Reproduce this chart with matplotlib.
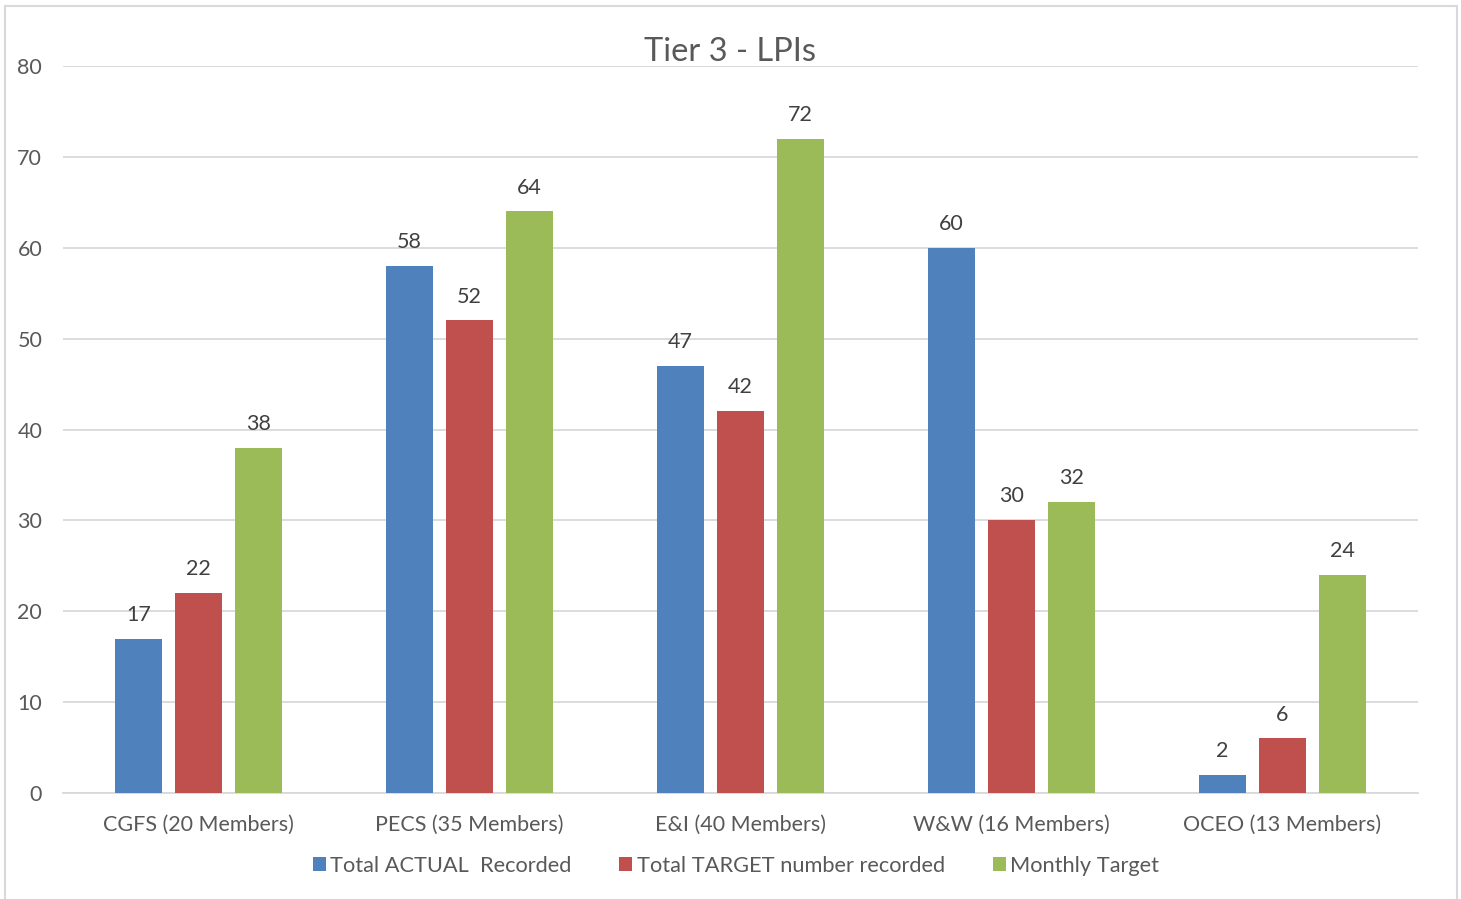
import matplotlib
matplotlib.use("Agg")
import matplotlib.pyplot as plt
from matplotlib.patches import Rectangle
import numpy as np

plt.rcParams['font.family'] = ['Lato', 'DejaVu Sans']

categories = ["CGFS (20 Members)", "PECS (35 Members)", "E&I (40 Members)",
              "W&W (16 Members)", "OCEO (13 Members)"]
actual_recorded = [17, 58, 47, 60, 2]
target_recorded = [22, 52, 42, 30, 6]
monthly_target = [38, 64, 72, 32, 24]

series_names = ["Total ACTUAL  Recorded", "Total TARGET number recorded", "Monthly Target"]
series_colors = ["#4F81BD", "#C0504D", "#9BBB59"]
yticks = [0, 10, 20, 30, 40, 50, 60, 70, 80]

text_color = "#595959"
grid_color = "#D9D9D9"

W, H = 1461, 899
fig = plt.figure(figsize=(W / 100, H / 100), dpi=100)
fig.patch.set_facecolor("white")

# outer chart border
fig.patches.append(Rectangle((5 / W, -0.01), (1457 - 5) / W, 1 - 6 / H + 0.01,
                             transform=fig.transFigure, fill=False,
                             edgecolor=grid_color, linewidth=1.5))

ax = fig.add_axes([63 / W, 106 / H, (1418 - 63) / W, (793 - 66) / H])

x = np.arange(len(categories))
bar_w = 0.173
step = 0.221
all_series = [actual_recorded, target_recorded, monthly_target]
for i, (vals, name, col) in enumerate(zip(all_series, series_names, series_colors)):
    pos = x + (i - 1) * step
    bars = ax.bar(pos, vals, width=bar_w, color=col, label=name, zorder=3)
    for b, v in zip(bars, vals):
        ax.annotate(f"{v}", (b.get_x() + b.get_width() / 2, v),
                    xytext=(0, 10), textcoords="offset points",
                    ha="center", va="bottom", fontsize=15.5, color="#404040")

ax.set_xlim(-0.5, len(categories) - 0.5)
ax.set_ylim(0, 80)
ax.set_yticks(yticks)
ax.set_yticklabels([str(t) for t in yticks])
ax.set_xticks(x)
ax.set_xticklabels(categories)

ax.grid(axis="y", color=grid_color, linewidth=1.3, zorder=0)
ax.set_axisbelow(True)
for side in ["top", "right", "left"]:
    ax.spines[side].set_visible(False)
ax.spines["bottom"].set_color(grid_color)
ax.spines["bottom"].set_linewidth(1.3)
ax.tick_params(axis="both", length=0, labelsize=15.5, labelcolor=text_color)
ax.tick_params(axis="y", pad=15)
ax.tick_params(axis="x", pad=16)

fig.text(0.5, 1 - 52 / H, "Tier 3 - LPIs", ha="center", va="center",
         fontsize=23.5, color=text_color)

handles, labels = ax.get_legend_handles_labels()
leg = fig.legend(handles, labels, loc="center", bbox_to_anchor=(736 / W, 1 - 866 / H),
                 ncol=3, frameon=False, fontsize=15.7, handlelength=0.6,
                 handleheight=0.6, handletextpad=0.2, columnspacing=2.2)
for t in leg.get_texts():
    t.set_color(text_color)

fig.savefig("out.png", dpi=100)
